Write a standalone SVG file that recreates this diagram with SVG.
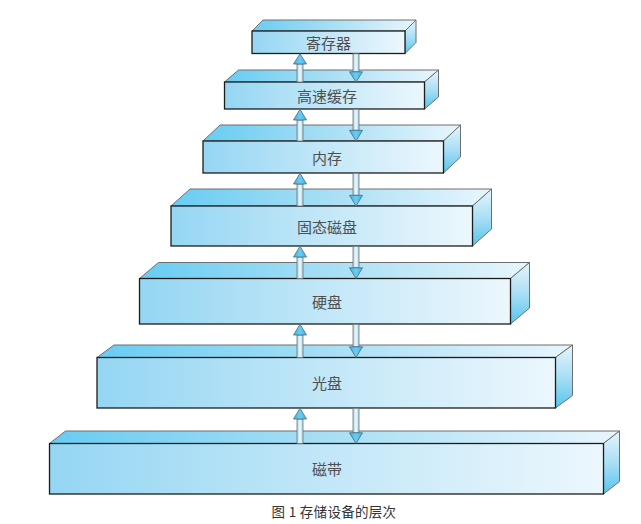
<svg xmlns="http://www.w3.org/2000/svg" width="641" height="524" viewBox="0 0 641 524">
<defs>
<linearGradient id="gFront" x1="0" y1="0" x2="1" y2="0">
<stop offset="0" stop-color="#95d6f3"/><stop offset="0.5" stop-color="#c2e7f8"/><stop offset="1" stop-color="#ecf7fd"/>
</linearGradient>
<linearGradient id="gTop" x1="0" y1="0" x2="1" y2="0">
<stop offset="0" stop-color="#68ccf3"/><stop offset="0.5" stop-color="#a9dff5"/><stop offset="1" stop-color="#e8f6fd"/>
</linearGradient>
<linearGradient id="gSide" x1="0" y1="0" x2="0" y2="1">
<stop offset="0" stop-color="#e6f5fc"/><stop offset="0.5" stop-color="#aadff5"/><stop offset="1" stop-color="#55c5ef"/>
</linearGradient>
<linearGradient id="gShaft" x1="0" y1="0" x2="1" y2="0">
<stop offset="0" stop-color="#a9d8ee"/><stop offset="0.5" stop-color="#eef8fd"/><stop offset="1" stop-color="#a9d8ee"/>
</linearGradient>
<linearGradient id="gHead" x1="0" y1="0" x2="1" y2="0">
<stop offset="0" stop-color="#36b5e8"/><stop offset="0.5" stop-color="#6dccf2"/><stop offset="1" stop-color="#36b5e8"/>
</linearGradient>
</defs>
<style>
.front{fill:url(#gFront);stroke:#1c1c1c;stroke-width:1.3}
.top{fill:url(#gTop);stroke:#6e6e6e;stroke-width:1}
.side{fill:url(#gSide);stroke:#6e6e6e;stroke-width:1}
.lbl{font-family:"Noto Sans CJK SC","Noto Sans",sans-serif;font-size:15px;fill:#4f4f4f;text-anchor:middle;dominant-baseline:central}
.cap{font-family:"Noto Sans CJK SC","Noto Sans",sans-serif;font-size:13.5px;fill:#333;text-anchor:middle;dominant-baseline:central;letter-spacing:0.3px}
.shaft{fill:url(#gShaft);stroke:#707070;stroke-width:0.8}
.head{fill:url(#gHead);stroke:#4a6a7a;stroke-width:0.8}
</style>
<rect width="641" height="524" fill="#fff"/>

<g id="tape">
<polygon class="top" points="49.5,443.5 65.5,431 619.5,431 603.5,443.5"/>
<polygon class="side" points="603.5,443.5 619.5,431 619.5,481.5 603.5,494"/>
<rect class="front" x="49.5" y="443.5" width="554" height="50.5"/>
<text class="lbl" x="327" y="468.7">磁带</text>
</g>
<g id="optical">
<polygon class="top" points="97,357.5 114,345 572.5,345 555.5,357.5"/>
<polygon class="side" points="555.5,357.5 572.5,345 572.5,395.5 555.5,408"/>
<rect class="front" x="97" y="357.5" width="458.5" height="50.5"/>
<text class="lbl" x="327" y="382.7">光盘</text>
</g>
<g id="hdd">
<polygon class="top" points="139.5,278.5 158.5,262.5 529.5,262.5 510.5,278.5"/>
<polygon class="side" points="510.5,278.5 529.5,262.5 529.5,308 510.5,324"/>
<rect class="front" x="139.5" y="278.5" width="371" height="45.5"/>
<text class="lbl" x="327" y="301">硬盘</text>
</g>
<g id="ssd">
<polygon class="top" points="171,206 190,189 491.5,189 472.5,206"/>
<polygon class="side" points="472.5,206 491.5,189 491.5,229 472.5,246"/>
<rect class="front" x="171" y="206" width="301.5" height="40"/>
<text class="lbl" x="327" y="226">固态磁盘</text>
</g>
<g id="memory">
<polygon class="top" points="203,141 220,125 460.5,125 443.5,141"/>
<polygon class="side" points="443.5,141 460.5,125 460.5,157 443.5,173"/>
<rect class="front" x="203" y="141" width="240.5" height="32"/>
<text class="lbl" x="327" y="157">内存</text>
</g>
<g id="cache">
<polygon class="top" points="224.5,82 238.5,70 438.5,70 424.5,82"/>
<polygon class="side" points="424.5,82 438.5,70 438.5,97 424.5,109"/>
<rect class="front" x="224.5" y="82" width="200" height="27"/>
<text class="lbl" x="327" y="95.5">高速缓存</text>
</g>
<g id="register">
<polygon class="top" points="252,31 263,20 416,20 405,31"/>
<polygon class="side" points="405,31 416,20 416,42.5 405,53.5"/>
<rect class="front" x="252" y="31" width="153" height="22.5"/>
<text class="lbl" x="328.5" y="42.3">寄存器</text>
</g>

<g id="connectors">
<rect class="shaft" x="297" y="64" width="6" height="18"/>
<polygon class="head" points="300,53.8 306.5,64 293.5,64"/>
<rect class="shaft" x="353" y="53.8" width="6" height="18"/>
<polygon class="head" points="356,82 362.5,71.8 349.5,71.8"/>
<rect class="shaft" x="297" y="120" width="6" height="21"/>
<polygon class="head" points="300,109.3 306.5,120 293.5,120"/>
<rect class="shaft" x="353" y="109.3" width="6" height="21"/>
<polygon class="head" points="356,141 362.5,130.3 349.5,130.3"/>
<rect class="shaft" x="297" y="184" width="6" height="22"/>
<polygon class="head" points="300,173.3 306.5,184 293.5,184"/>
<rect class="shaft" x="353" y="173.3" width="6" height="22"/>
<polygon class="head" points="356,206 362.5,195.3 349.5,195.3"/>
<rect class="shaft" x="297" y="257" width="6" height="21.5"/>
<polygon class="head" points="300,246.3 306.5,257 293.5,257"/>
<rect class="shaft" x="353" y="246.3" width="6" height="21.5"/>
<polygon class="head" points="356,278.5 362.5,267.8 349.5,267.8"/>
<rect class="shaft" x="297" y="335" width="6" height="22.5"/>
<polygon class="head" points="300,324.3 306.5,335 293.5,335"/>
<rect class="shaft" x="353" y="324.3" width="6" height="22.5"/>
<polygon class="head" points="356,357.5 362.5,346.8 349.5,346.8"/>
<rect class="shaft" x="297" y="419" width="6" height="24.5"/>
<polygon class="head" points="300,408.3 306.5,419 293.5,419"/>
<rect class="shaft" x="353" y="408.3" width="6" height="24.5"/>
<polygon class="head" points="356,443.5 362.5,432.8 349.5,432.8"/>
</g>

<text class="cap" x="334" y="511">图 1 存储设备的层次</text>
</svg>
